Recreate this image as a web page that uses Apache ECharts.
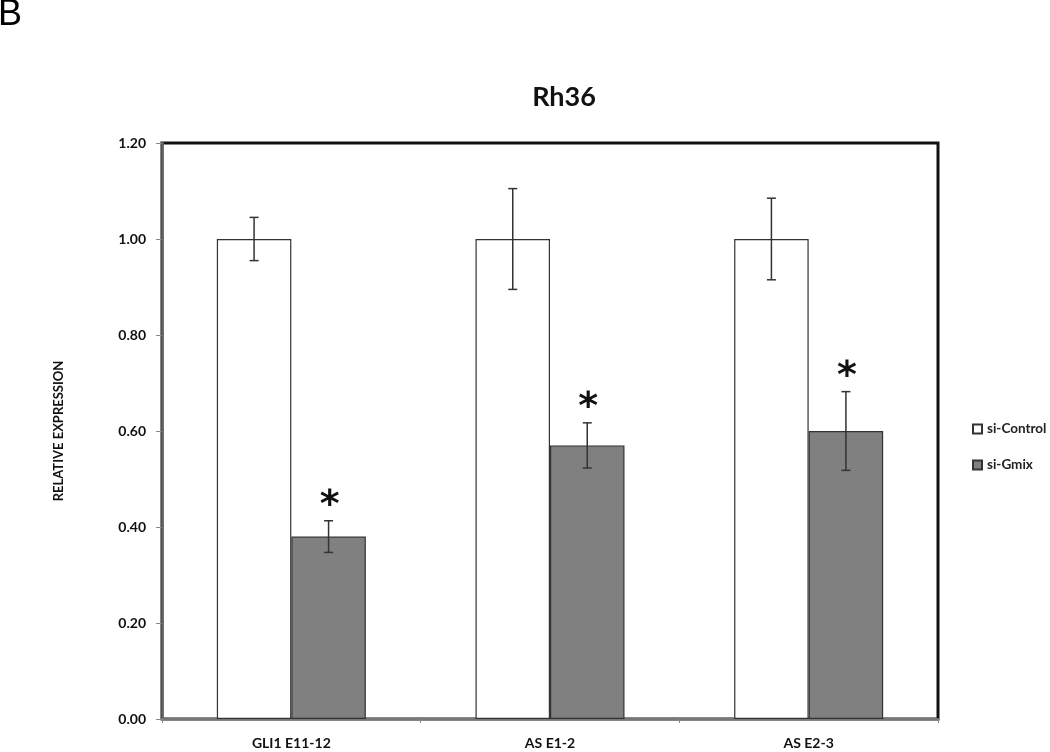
<!DOCTYPE html>
<html>
<head>
<meta charset="utf-8">
<title>Rh36</title>
<script src="https://cdn.jsdelivr.net/npm/echarts@6/dist/echarts.min.js"></script>
<style>
  html, body { margin: 0; padding: 0; background: #fff; }
  #chart { width: 1050px; height: 752px; }
</style>
</head>
<body>
<div id="chart"></div>
<script>
// data
const categories = ['GLI1 E11-12', 'AS E1-2', 'AS E2-3']
const controlValues = [1.0, 1.0, 1.0]
const controlErr = [0.045, 0.105, 0.085]
const gmixValues = [0.38, 0.57, 0.60]
const gmixErr = [0.033, 0.047, 0.082]
const significant = [true, true, true]

const yMin = 0
const yMax = 1.2
const yStep = 0.2

const chart = echarts.init(document.getElementById('chart'))

// error bar (+ optional asterisk) drawn by a custom series
function errorRender(values, errs, side, star) {
  return function (params, api) {
    const i = api.value(0)
    const v = values[i]
    const e = errs[i]
    const band = api.size([1, 0])[0]
    const x = api.coord([i, v])[0] + side * band * 0.144
    const top = api.coord([i, v + e])[1]
    const bot = api.coord([i, v - e])[1]
    const cap = 4.5
    const st = { stroke: '#333', lineWidth: 1.5 }
    const children = [
      { type: 'line', shape: { x1: x, y1: top, x2: x, y2: bot }, style: st },
      { type: 'line', shape: { x1: x - cap, y1: top, x2: x + cap, y2: top }, style: st },
      { type: 'line', shape: { x1: x - cap, y1: bot, x2: x + cap, y2: bot }, style: st },
    ]
    if (star && significant[i]) {
      children.push({
        type: 'text',
        style: {
          x: x + 1,
          y: top + 4,
          text: '*',
          fill: '#111',
          font: 'bold 38px "DejaVu Sans"',
          align: 'center',
          verticalAlign: 'bottom',
        },
      })
    }
    return { type: 'group', children: children }
  }
}

const option = {
  backgroundColor: '#fff',
  animation: false,
  title: [
    {
      text: 'Rh36',
      left: 559,
      top: 79,
      textAlign: 'center',
      textStyle: { fontFamily: 'Lato', fontWeight: 'bold', fontSize: 27, color: '#111' },
    },
    {
      text: 'B',
      left: -7,
      top: -8,
      textStyle: { fontFamily: 'Liberation Sans', fontWeight: 'normal', fontSize: 36, color: '#000' },
    },
  ],
  legend: {
    orient: 'vertical',
    left: 967,
    top: 417,
    itemWidth: 9,
    itemHeight: 9,
    itemGap: 22,
    icon: 'rect',
    textStyle: { fontFamily: 'Lato', fontWeight: 'bold', fontSize: 13.5, color: '#222' },
    data: ['si-Control', 'si-Gmix'],
  },
  grid: {
    left: 162,
    right: 112,
    top: 143,
    bottom: 33,
    outerBoundsMode: 'none',
    containLabel: false,
    show: true,
    borderColor: '#111',
    borderWidth: 3,
    backgroundColor: '#fff',
  },
  xAxis: {
    type: 'category',
    data: categories,
    axisLine: { show: true, lineStyle: { color: '#777', width: 2 } },
    axisTick: { show: true, alignWithLabel: false, length: 4, lineStyle: { color: '#888' } },
    axisLabel: { fontFamily: 'Lato', fontWeight: 'bold', fontSize: 14, color: '#111', margin: 17 },
  },
  yAxis: {
    type: 'value',
    min: yMin,
    max: yMax,
    interval: yStep,
    name: 'RELATIVE EXPRESSION',
    nameLocation: 'middle',
    nameGap: 97,
    nameTextStyle: { fontFamily: 'Lato', fontWeight: 'bold', fontSize: 13, color: '#111' },
    axisLine: { show: true, lineStyle: { color: '#666', width: 2.5 } },
    axisTick: { show: true, length: 6, lineStyle: { color: '#888' } },
    splitLine: { show: false },
    axisLabel: {
      fontFamily: 'Lato',
      fontWeight: 'bold',
      fontSize: 14,
      color: '#111',
      margin: 16,
      formatter: v => v.toFixed(2),
    },
  },
  series: [
    {
      name: 'si-Control',
      type: 'bar',
      data: controlValues,
      barGap: '0%',
      barCategoryGap: '42.4%',
      itemStyle: { color: '#fff', borderColor: '#333', borderWidth: 1.2 },
    },
    {
      name: 'si-Gmix',
      type: 'bar',
      data: gmixValues,
      itemStyle: { color: '#808080', borderColor: '#333', borderWidth: 1.2 },
    },
    {
      type: 'custom',
      renderItem: errorRender(controlValues, controlErr, -1, false),
      data: categories.map((c, i) => [i]),
      z: 5,
    },
    {
      type: 'custom',
      renderItem: errorRender(gmixValues, gmixErr, 1, true),
      data: categories.map((c, i) => [i]),
      z: 5,
    },
  ],
}

chart.setOption(option)
</script>
</body>
</html>
